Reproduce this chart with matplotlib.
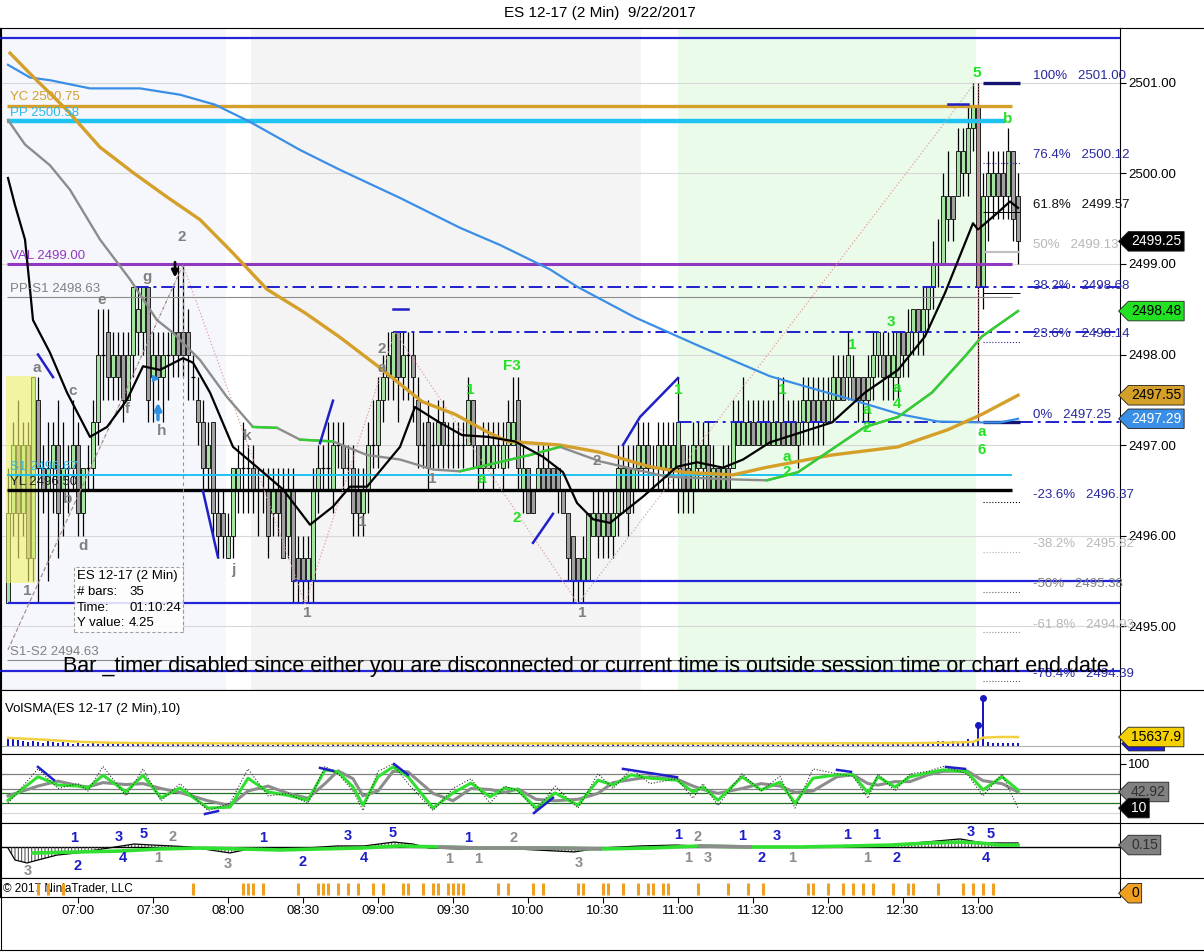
import matplotlib
matplotlib.use("Agg")
import matplotlib.pyplot as plt
import matplotlib.transforms as mtrans
from matplotlib.patches import Rectangle
from matplotlib.path import Path
from matplotlib.lines import Line2D

plt.rcParams['font.family'] = ['Liberation Sans', 'DejaVu Sans']
plt.rcParams['axes.linewidth'] = 0.8
plt.rcParams['hatch.linewidth'] = 0.7

# ---------------- data ----------------
first_bar = "06:32"
bar_minutes = 2
time_labels = ["07:00", "07:30", "08:00", "08:30", "09:00", "09:30", "10:00",
               "10:30", "11:00", "11:30", "12:00", "12:30", "13:00"]
price_ticks = [2495.0, 2496.0, 2497.0, 2498.0, 2499.0, 2500.0, 2501.0]

opens = [2495.25, 2496.25, 2497.0, 2496.25, 2497.0, 2495.75, 2497.5, 2496.75, 2496.5, 2496.75,
         2497.0, 2496.5, 2496.75, 2496.75, 2497.0, 2496.25, 2496.75, 2496.75, 2497.25, 2498.0,
         2498.25, 2497.75, 2498.0, 2498.0, 2497.5, 2498.0, 2498.25, 2498.25, 2498.75, 2497.75,
         2498.0, 2497.75, 2498.0, 2498.0, 2498.25, 2498.25, 2498.25, 2497.75, 2497.5, 2497.25,
         2496.75, 2497.25, 2496.25, 2496.25, 2495.75, 2496.0, 2496.5, 2496.75, 2496.75, 2496.75,
         2496.5, 2496.5, 2496.5, 2496.25, 2496.5, 2496.5, 2496.0, 2496.5, 2495.75, 2495.75,
         2495.5, 2495.5, 2496.5, 2496.75, 2496.75, 2496.5, 2497.0, 2497.0, 2496.75, 2496.75,
         2496.5, 2496.25, 2496.5, 2497.0, 2497.0, 2497.5, 2497.75, 2497.75, 2498.25, 2497.75,
         2498.0, 2498.0, 2497.5, 2497.0, 2497.25, 2497.0, 2497.0, 2497.25, 2497.0, 2497.0,
         2497.0, 2497.0, 2497.0, 2497.5, 2497.0, 2496.75, 2496.75, 2496.75, 2497.0, 2496.75,
         2497.0, 2497.0, 2497.5, 2496.5, 2496.75, 2496.5, 2496.5, 2496.75, 2496.75, 2496.75,
         2496.75, 2496.5, 2496.25, 2496.0, 2495.75, 2495.5, 2495.5, 2496.0, 2496.25, 2496.0,
         2496.25, 2496.0, 2496.25, 2496.5, 2496.75, 2496.5, 2496.75, 2496.75, 2497.0, 2496.75,
         2496.75, 2496.75, 2496.75, 2496.75, 2496.75, 2497.0, 2496.75, 2496.5, 2496.75, 2496.75,
         2497.0, 2496.5, 2496.75, 2496.5, 2496.75, 2496.75, 2497.0, 2497.0, 2497.0, 2497.25,
         2497.0, 2497.0, 2497.25, 2497.0, 2497.0, 2497.25, 2497.0, 2497.25, 2497.0, 2497.25,
         2497.25, 2497.5, 2497.25, 2497.5, 2497.25, 2497.5, 2497.5, 2497.75, 2497.75, 2497.75,
         2497.75, 2497.75, 2497.5, 2497.75, 2498.0, 2498.0, 2497.75, 2497.75, 2497.75, 2498.25,
         2498.0, 2498.25, 2498.5, 2498.25, 2498.5, 2498.75, 2499.0, 2499.0, 2499.5, 2499.75,
         2499.75, 2500.0, 2500.0, 2500.5, 2500.75, 2498.75, 2499.75, 2499.75, 2500.0, 2500.0,
         2499.75, 2500.25, 2499.75]
closes = [2496.25, 2497.0, 2496.25, 2497.0, 2495.75, 2497.75, 2496.75, 2496.5, 2496.75, 2497.0,
          2496.25, 2496.75, 2496.75, 2497.0, 2496.25, 2496.75, 2496.75, 2497.25, 2498.0, 2498.0,
          2497.75, 2498.0, 2497.75, 2497.5, 2498.0, 2498.75, 2498.5, 2498.75, 2497.5, 2498.0,
          2497.75, 2498.0, 2498.0, 2498.25, 2498.0, 2498.0, 2498.0, 2497.75, 2497.25, 2496.75,
          2497.0, 2496.25, 2496.0, 2496.0, 2496.0, 2496.75, 2496.75, 2496.75, 2496.75, 2496.5,
          2496.5, 2496.5, 2496.0, 2496.5, 2496.25, 2495.75, 2496.5, 2495.5, 2495.5, 2495.5,
          2495.75, 2496.5, 2496.75, 2496.75, 2496.75, 2497.0, 2497.0, 2496.75, 2496.75, 2496.25,
          2496.25, 2496.5, 2497.0, 2497.0, 2497.5, 2497.75, 2498.0, 2498.25, 2497.75, 2498.0,
          2498.0, 2497.75, 2497.0, 2497.0, 2496.75, 2497.0, 2497.25, 2497.0, 2497.0, 2497.0,
          2497.0, 2497.0, 2497.5, 2497.0, 2496.75, 2497.0, 2497.0, 2497.0, 2497.0, 2497.0,
          2497.25, 2497.25, 2496.75, 2496.75, 2496.25, 2496.25, 2496.75, 2496.5, 2496.5, 2496.5,
          2496.5, 2496.25, 2495.75, 2495.5, 2495.5, 2495.75, 2496.25, 2496.25, 2496.0, 2496.25,
          2496.0, 2496.25, 2496.75, 2496.75, 2496.25, 2496.75, 2497.0, 2497.0, 2496.75, 2496.75,
          2497.0, 2497.0, 2497.0, 2497.0, 2497.25, 2496.5, 2496.5, 2497.0, 2497.0, 2497.0,
          2496.5, 2496.75, 2496.5, 2496.75, 2496.5, 2497.25, 2497.25, 2497.25, 2497.25, 2497.0,
          2497.25, 2497.25, 2497.0, 2497.25, 2497.25, 2497.0, 2497.25, 2497.0, 2497.25, 2497.5,
          2497.5, 2497.25, 2497.5, 2497.25, 2497.5, 2497.75, 2497.75, 2497.5, 2498.0, 2497.5,
          2497.5, 2497.5, 2497.75, 2498.0, 2498.25, 2497.75, 2498.0, 2498.0, 2498.25, 2498.0,
          2498.25, 2498.5, 2498.25, 2498.5, 2498.75, 2499.0, 2499.0, 2499.75, 2499.75, 2499.5,
          2500.25, 2500.25, 2500.5, 2500.75, 2498.75, 2499.75, 2500.0, 2500.0, 2499.75, 2499.75,
          2500.25, 2499.5, 2499.25]
highs = [2496.75, 2497.25, 2497.5, 2497.25, 2497.25, 2497.75, 2497.75, 2497.0, 2497.25, 2497.25,
         2497.5, 2497.25, 2497.0, 2497.5, 2497.25, 2496.75, 2497.0, 2497.5, 2498.5, 2498.5,
         2498.5, 2498.25, 2498.25, 2498.25, 2498.25, 2498.75, 2498.75, 2498.75, 2498.75, 2498.25,
         2498.25, 2498.25, 2498.25, 2498.75, 2499.0, 2499.0, 2498.5, 2498.0, 2497.75, 2497.5,
         2497.25, 2497.25, 2496.5, 2496.5, 2496.25, 2496.75, 2497.0, 2497.25, 2497.0, 2497.0,
         2496.75, 2496.75, 2496.75, 2496.75, 2496.75, 2496.75, 2496.75, 2496.75, 2496.0, 2496.0,
         2496.0, 2496.75, 2497.0, 2497.0, 2497.25, 2497.25, 2497.25, 2497.25, 2497.0, 2497.0,
         2496.75, 2496.75, 2497.25, 2497.5, 2497.75, 2498.0, 2498.25, 2498.25, 2498.25, 2498.25,
         2498.25, 2498.25, 2497.75, 2497.25, 2497.5, 2497.25, 2497.5, 2497.5, 2497.25, 2497.25,
         2497.25, 2497.25, 2497.75, 2497.5, 2497.0, 2497.25, 2497.25, 2497.25, 2497.25, 2497.25,
         2497.5, 2497.75, 2497.75, 2497.0, 2496.75, 2496.5, 2497.0, 2497.0, 2497.0, 2496.75,
         2496.75, 2496.5, 2496.25, 2496.0, 2495.75, 2496.0, 2496.25, 2496.5, 2496.5, 2496.5,
         2496.5, 2496.5, 2497.0, 2497.0, 2497.0, 2497.0, 2497.25, 2497.25, 2497.25, 2497.0,
         2497.25, 2497.25, 2497.25, 2497.25, 2497.75, 2497.0, 2497.0, 2497.25, 2497.25, 2497.25,
         2497.25, 2497.0, 2496.75, 2497.0, 2497.0, 2497.5, 2497.5, 2497.75, 2497.5, 2497.5,
         2497.5, 2497.5, 2497.5, 2497.5, 2497.75, 2497.75, 2497.5, 2497.5, 2497.5, 2497.75,
         2497.75, 2497.75, 2497.75, 2497.75, 2497.75, 2498.0, 2498.0, 2498.0, 2498.25, 2498.0,
         2497.75, 2497.75, 2498.0, 2498.25, 2498.25, 2498.25, 2498.25, 2498.25, 2498.25, 2498.25,
         2498.5, 2498.5, 2498.5, 2498.75, 2498.75, 2499.25, 2499.5, 2500.0, 2500.25, 2499.75,
         2500.5, 2500.5, 2500.75, 2501.0, 2501.0, 2500.0, 2500.25, 2500.25, 2500.25, 2500.25,
         2500.5, 2500.25, 2500.0]
lows = [2495.25, 2496.0, 2495.75, 2496.0, 2495.5, 2495.5, 2495.25, 2496.25, 2495.5, 2496.25,
        2495.75, 2496.0, 2496.25, 2496.5, 2496.0, 2496.0, 2496.5, 2496.5, 2497.0, 2497.5,
        2497.5, 2497.5, 2497.5, 2497.25, 2497.5, 2497.75, 2498.0, 2498.0, 2497.25, 2497.25,
        2497.5, 2497.25, 2497.5, 2497.75, 2497.75, 2497.75, 2497.5, 2497.5, 2497.0, 2496.5,
        2496.5, 2496.0, 2495.75, 2495.75, 2495.75, 2495.75, 2496.25, 2496.25, 2496.25, 2496.25,
        2496.0, 2496.25, 2495.75, 2496.0, 2496.0, 2495.75, 2495.75, 2495.25, 2495.25, 2495.25,
        2495.25, 2495.25, 2496.25, 2496.5, 2496.5, 2496.25, 2496.75, 2496.5, 2496.5, 2496.0,
        2496.0, 2496.0, 2496.25, 2496.75, 2496.75, 2497.25, 2497.5, 2497.5, 2497.25, 2497.5,
        2497.5, 2497.25, 2496.75, 2496.75, 2496.5, 2496.75, 2496.75, 2496.75, 2496.75, 2496.75,
        2496.75, 2496.75, 2497.0, 2496.75, 2496.5, 2496.5, 2496.75, 2496.5, 2496.75, 2496.5,
        2496.75, 2497.0, 2496.5, 2496.25, 2496.25, 2496.25, 2496.5, 2496.5, 2496.5, 2496.5,
        2496.25, 2496.25, 2495.5, 2495.25, 2495.25, 2495.25, 2495.5, 2496.0, 2495.75, 2495.75,
        2495.75, 2495.75, 2496.0, 2496.25, 2496.0, 2496.25, 2496.5, 2496.5, 2496.5, 2496.5,
        2496.5, 2496.5, 2496.5, 2496.5, 2496.25, 2496.25, 2496.25, 2496.25, 2496.5, 2496.5,
        2496.5, 2496.5, 2496.5, 2496.5, 2496.5, 2496.75, 2497.0, 2497.0, 2497.0, 2497.0,
        2497.0, 2497.0, 2497.0, 2497.0, 2497.0, 2497.0, 2497.0, 2497.0, 2496.75, 2497.0,
        2497.0, 2497.0, 2497.0, 2497.0, 2497.25, 2497.25, 2497.5, 2497.5, 2497.5, 2497.5,
        2497.25, 2497.25, 2497.25, 2497.5, 2497.75, 2497.5, 2497.5, 2497.5, 2497.5, 2497.75,
        2497.75, 2498.0, 2498.0, 2498.0, 2498.25, 2498.5, 2498.75, 2499.0, 2499.25, 2499.25,
        2499.75, 2499.75, 2499.75, 2500.25, 2497.25, 2498.5, 2499.25, 2499.5, 2499.5, 2499.5,
        2499.5, 2499.25, 2499.0]

# moving averages (bar number, price)
ma_blue_i = [0, 4.4, 8.4, 16.4, 26.4, 34.4, 41.4, 48.4, 58.4, 66.4, 78.4, 90.4, 98.4, 108.4,
             113.8, 125.4, 138.4, 152.4, 168.8, 178.4, 186, 194.4, 198.4, 202]
ma_blue_v = [2501.20, 2501.06, 2501.03, 2500.94, 2500.94, 2500.87, 2500.76, 2500.57, 2500.26,
             2500.04, 2499.73, 2499.40, 2499.21, 2498.94, 2498.75, 2498.41, 2498.09, 2497.76,
             2497.50, 2497.34, 2497.26, 2497.25, 2497.25, 2497.29]
ma_gold_i = [0.4, 5, 11.8, 18.4, 25, 31.8, 38.4, 45, 51.8, 59.4, 66.4, 74, 82.8, 89.4, 96, 100,
             110.4, 118.4, 128.4, 135, 145, 151.4, 164.8, 178, 188, 194.8, 202]
ma_gold_v = [2501.33, 2501.07, 2500.70, 2500.29, 2500.01, 2499.74, 2499.49, 2499.12, 2498.72,
             2498.46, 2498.19, 2497.87, 2497.48, 2497.34, 2497.14, 2497.04, 2497.00, 2496.92,
             2496.76, 2496.70, 2496.67, 2496.75, 2496.89, 2496.98, 2497.17, 2497.34, 2497.55]
ma_gray_i = [0, 3.4, 8.4, 12.4, 18.4, 24.4, 29.8, 33, 38.4, 43.8, 49, 53.8, 58.4, 65, 71.8,
             78.4, 85, 90.4, 104.4, 110.4, 118.4, 131.8, 145, 151.8, 158, 171.4, 178, 184.8,
             191.4, 194.8, 202]
ma_gray_v = [2500.59, 2500.32, 2500.09, 2499.82, 2499.27, 2498.83, 2498.38, 2498.24, 2497.94,
             2497.53, 2497.20, 2497.19, 2497.06, 2497.04, 2496.89, 2496.84, 2496.73, 2496.71,
             2496.89, 2496.98, 2496.82, 2496.65, 2496.62, 2496.61, 2496.70, 2497.20, 2497.31,
             2497.58, 2497.98, 2498.20, 2498.48]
ma_gray_rising = [(49, 53.8), (58.4, 65), (90.4, 110.4), (151.8, 202)]
ma_black_i = [0, 1.4, 3.4, 4.4, 5, 8.4, 11.8, 16.4, 19.8, 23.8, 27, 30.4, 35, 37, 40.4, 45,
              51, 55, 60.4, 65, 68.4, 71.8, 78.4, 81.4, 86, 90.8, 96, 101.4, 107, 111, 113.8,
              117, 120.4, 127, 133.8, 137.8, 143, 147, 152.4, 164.8, 171.4, 178, 183.4, 187.4,
              191.4, 193, 194, 198, 200.4, 202]
ma_black_v = [2499.95, 2499.65, 2499.27, 2498.72, 2498.38, 2498.02, 2497.58, 2497.09, 2497.20,
              2497.50, 2497.87, 2497.83, 2497.96, 2497.91, 2497.58, 2496.98, 2496.70, 2496.51,
              2496.12, 2496.32, 2496.54, 2496.54, 2496.98, 2497.42, 2497.26, 2497.11, 2497.09,
              2497.04, 2496.87, 2496.70, 2496.36, 2496.18, 2496.14, 2496.43, 2496.76, 2496.81,
              2496.75, 2496.84, 2497.03, 2497.25, 2497.58, 2497.83, 2498.20, 2498.68, 2499.23,
              2499.45, 2499.38, 2499.57, 2499.69, 2499.62]

# price levels
r_level = 2501.50
yc_level, pp_level, val_level = 2500.75, 2500.58, 2499.00
pps1_level, s1_level, yl_level, s1s2_level = 2498.63, 2496.67, 2496.50, 2494.63
blue_levels = [2495.50, 2495.25, 2494.50]
blue_level_start = [57, 0, -2]
swing_levels = [2498.75, 2498.25, 2497.25]
swing_start = [25.4, 77, 134]

fib_pct = ["100%", "76.4%", "61.8%", "50%", "38.2%", "23.6%", "0%",
           "-23.6%", "-38.2%", "-50%", "-61.8%", "-76.4%"]
fib_price = [2501.00, 2500.12, 2499.57, 2499.13, 2498.68, 2498.14, 2497.25,
             2496.37, 2495.82, 2495.38, 2494.93, 2494.39]

zigzag_i = [0, 35, 59.4, 77.4, 114, 193.4]
zigzag_p = [2494.74, 2498.99, 2495.25, 2498.25, 2495.25, 2501.00]

session_start = ["06:28", "08:09", "11:00"]
session_end = ["07:59", "10:45", "12:59"]

gray_labels = ["a", "c", "b", "d", "e", "f", "g", "h", "j", "k", "1", "2", "1", "1", "2", "a",
               "1", "2", "1"]
gray_label_i = [5.8, 13, 12, 15, 18.8, 23.8, 27.8, 30.8, 45, 47.8, 3.8, 34.8, 59.8, 70.8,
                74.8, 74.8, 84.8, 117.8, 114.8]
gray_label_p = [2497.85, 2497.60, 2496.40, 2495.89, 2498.60, 2497.40, 2498.86, 2497.15,
                2495.62, 2497.10, 2495.39, 2499.30, 2495.14, 2496.15, 2498.06, 2497.85,
                2496.63, 2496.82, 2495.14]
green_labels = ["1", "F3", "a", "2", "1", "1", "a", "2", "1", "a", "2", "3", "a", "4", "5",
                "b", "a", "6"]
green_label_i = [92.4, 100.8, 94.8, 101.8, 134, 154.8, 155.8, 155.8, 168.8, 171.8, 171.8,
                 176.6, 177.8, 177.8, 193.8, 200, 194.8, 194.8]
green_label_p = [2497.61, 2497.87, 2496.63, 2496.19, 2497.61, 2497.61, 2496.87, 2496.70,
                 2498.11, 2497.39, 2497.19, 2498.36, 2497.63, 2497.45, 2501.11, 2500.60,
                 2497.14, 2496.94]

# divergence slashes on price (start bar, start price, end bar, end price)
slash_price = [(6, 2498.0, 9, 2497.75), (39, 2496.49, 42, 2495.76), (62.4, 2497.02, 65, 2497.49),
               (105, 2495.92, 109, 2496.24), (77, 2498.5, 80, 2498.5), (188, 2500.77, 192, 2500.77)]
slash_curve_i = [123, 126.4, 134]
slash_curve_p = [2497.0, 2497.31, 2497.74]

# volume (thousands of contracts)
volume_k = [15.6, 12.2, 10.4, 8.7, 7.0, 8.7, 7.0, 5.2, 10.4, 7.0,
            5.2, 7.0, 5.2, 3.5, 5.2, 3.5, 3.5, 5.2, 3.5, 3.5,
            5.2, 3.5, 3.5, 3.5, 5.2, 3.5, 3.5, 5.2, 3.5, 3.5,
            3.5, 3.5, 3.5, 3.5, 3.5, 3.5, 5.2, 3.5, 3.5, 3.5,
            3.5, 3.5, 1.7, 3.5, 3.5, 3.5, 3.5, 3.5, 1.7, 3.5,
            3.5, 3.5, 3.5, 1.7, 3.5, 3.5, 3.5, 5.2, 3.5, 3.5,
            3.5, 3.5, 3.5, 1.7, 3.5, 3.5, 3.5, 3.5, 3.5, 3.5,
            3.5, 3.5, 3.5, 5.2, 3.5, 3.5, 1.7, 3.5, 3.5, 3.5,
            3.5, 3.5, 3.5, 3.5, 1.7, 3.5, 3.5, 3.5, 3.5, 3.5,
            3.5, 3.5, 3.5, 3.5, 5.2, 3.5, 5.2, 3.5, 3.5, 3.5,
            3.5, 5.2, 3.5, 3.5, 3.5, 1.7, 3.5, 3.5, 3.5, 5.2,
            3.5, 3.5, 5.2, 3.5, 3.5, 3.5, 3.5, 1.7, 3.5, 3.5,
            3.5, 3.5, 3.5, 3.5, 3.5, 3.5, 1.7, 3.5, 3.5, 3.5,
            5.2, 3.5, 3.5, 3.5, 3.5, 3.5, 3.5, 3.5, 1.7, 3.5,
            3.5, 3.5, 3.5, 3.5, 5.2, 3.5, 3.5, 5.2, 3.5, 3.5,
            3.5, 3.5, 3.5, 3.5, 1.7, 3.5, 5.2, 3.5, 3.5, 3.5,
            3.5, 3.5, 3.5, 3.5, 3.5, 3.5, 1.7, 3.5, 3.5, 3.5,
            3.5, 3.5, 3.5, 3.5, 3.5, 3.5, 3.5, 3.5, 3.5, 3.5,
            3.5, 3.5, 3.5, 3.5, 3.5, 5.2, 8.7, 8.7, 7.0, 8.7,
            7.0, 5.2, 12.2, 7.0, 36.0, 83.4, 7.0, 5.2, 5.2, 5.2,
            5.2, 5.2, 5.2]
vol_sma_i = [0, 5, 10, 15, 22, 30, 50, 100, 150, 180, 188, 193, 195, 198, 202]
vol_sma_k = [14.0, 12.0, 9.5, 7.0, 5.5, 4.8, 4.3, 4.3, 4.3, 4.8, 5.8, 7.0, 14.5, 15.6, 15.6]
vol_last_k = 15.6379
vol_peaks = [194, 195]

# stochastics
stoch_i = [0, 6, 10, 14, 16, 19, 23.6, 27, 30.6, 34.4, 40, 44.4, 48, 52, 56, 60, 63.4, 66, 69,
           71, 74, 77, 80, 85, 89, 92.6, 96.4, 99.4, 102, 105.6, 109.4, 114, 118, 121, 124.6,
           128.4, 133.8, 137, 139, 142, 146.8, 150.6, 154.4, 157.4, 161, 165.8, 169, 172, 174,
           177.4, 180.4, 184, 187, 191.8, 195, 198.8, 202]
stoch_k = [26, 74, 57, 55, 51, 77, 43, 77, 31, 51, 10, 12, 71, 43, 36, 26, 88, 84, 53, 16, 74,
           94, 74, 10, 41, 61, 33, 51, 47, 10, 41, 16, 67, 57, 78, 71, 67, 43, 53, 26, 74, 47,
           63, 20, 71, 78, 78, 41, 74, 53, 74, 82, 88, 84, 47, 74, 47]
stoch_d = [35, 55, 65, 56, 53, 62, 58, 60, 50, 42, 25, 15, 45, 55, 40, 30, 60, 86, 70, 35, 45,
           85, 84, 40, 25, 50, 48, 42, 49, 28, 25, 28, 40, 62, 68, 74, 69, 55, 48, 40, 50, 60,
           55, 42, 45, 74, 78, 60, 57, 64, 64, 78, 85, 86, 66, 60, 42.92]
stoch_f = [20, 90, 50, 60, 45, 95, 35, 90, 25, 60, 5, 20, 90, 35, 40, 20, 95, 80, 45, 5, 85,
           100, 60, 5, 50, 70, 20, 55, 45, 5, 55, 10, 80, 50, 90, 60, 70, 30, 60, 15, 80, 45,
           75, 10, 90, 80, 75, 30, 80, 45, 80, 85, 95, 80, 35, 80, 10]
stoch_levels = [80, 50, 40, 20, 0]
stoch_slash = [(6, 94, 9.2, 67), (39.4, -2, 42, 4), (62.4, 92, 65, 86), (77.2, 100, 80, 78),
               (105.2, 0, 109, 31), (123, 90, 133.8, 73), (165.8, 88, 168.6, 84),
               (187.6, 94, 191.4, 90)]

# macd-style oscillator
macd_sig_i = [5, 14.4, 22.4, 30.4, 38.4, 46.4, 54.4, 62.4, 70.4, 78.4, 86.4, 94.4, 108.4,
              118.4, 128.4, 138.4, 148.4, 158.4, 168.8, 176.4, 184.4, 190.4, 194.4, 198.4, 202]
macd_sig = [-0.46, -0.38, -0.31, -0.15, -0.08, -0.15, -0.23, -0.15, -0.08, 0.08, 0, -0.08,
            -0.08, -0.15, -0.08, 0.08, 0, 0, 0.08, 0.15, 0.31, 0.38, 0.31, 0.15, 0.15]
macd_flat = [(86.4, 118.4), (138.4, 148.4)]
macd_i = [0, 1.4, 3.8, 6, 9.8, 13.8, 17.6, 21.4, 25.2, 29, 32.8, 36.6, 40.4, 44.4, 48.2, 52,
          59.6, 65.8, 71.2, 77.2, 81, 84.2, 90.2, 98, 105.6, 113.2, 118.4, 126.4, 133.8,
          141.4, 158.4, 174.4, 183.4, 190.4, 195, 202]
macd_v = [-0.08, -1.0, -1.23, -1.0, -0.62, -0.46, -0.23, 0, 0.23, 0.15, 0.08, 0, -0.23, -0.46,
          -0.15, -0.08, -0.08, 0.08, 0.08, 0.38, 0.23, -0.08, -0.15, -0.08, -0.23, -0.38,
          -0.08, 0.08, 0.15, 0, 0, 0.08, 0.38, 0.62, 0.31, 0.31]
macd_blue_txt = ["1", "2", "3", "4", "5", "1", "2", "3", "4", "5", "1", "1", "1", "2", "3",
                 "1", "1", "2", "3", "5", "4"]
macd_blue_i = [13.2, 14, 22.2, 23, 27.2, 51, 59, 68, 71.2, 77, 92, 134, 146.8, 150.8, 153.8,
               167.8, 173.6, 177.8, 192.6, 196.6, 195.6]
macd_blue_v = [0.69, -1.46, 0.77, -0.85, 1.0, 0.69, -1.15, 0.85, -0.85, 1.08, 0.69, 0.92,
               0.85, -0.85, 0.85, 0.92, 0.92, -0.85, 1.15, 1.0, -0.85]
macd_gray_txt = ["3", "2", "1", "3", "1", "1", "2", "3", "2", "1", "3", "1", "1"]
macd_gray_i = [4, 33, 30, 44, 88.2, 94, 101.2, 114.2, 138, 136, 140, 156.8, 171.8]
macd_gray_v = [-1.85, 0.77, -0.85, -1.31, -0.92, -0.92, 0.69, -1.23, 0.77, -0.85, -0.85,
               -0.85, -0.85]

# orange signal ticks (bar numbers)
signal_bars = [6, 8, 11, 37, 47, 48, 49, 51, 58, 62, 63, 64, 66, 68, 70, 73, 75, 79, 80, 83,
               85, 86, 88, 89, 90, 91, 98, 100, 105, 107, 114, 115, 119, 120, 123, 126, 128,
               129, 131, 132, 138, 144, 148, 151, 160, 161, 164, 167, 169, 171, 173, 177,
               180, 181, 186, 191, 193, 195, 197]

# ---------------- drawing ----------------
W, H = 1204, 952
fig = plt.figure(figsize=(W / 100, H / 100), dpi=100)


def px_rect(x0, y0, x1, y1):
    return [x0 / W, 1 - y1 / H, (x1 - x0) / W, (y1 - y0) / H]


def bar_pos(hhmm):
    h, m = map(int, hhmm.split(":"))
    h0, m0 = map(int, first_bar.split(":"))
    return ((h * 60 + m) - (h0 * 60 + m0)) / bar_minutes


def tag_shape(x0, y0, width, height, mutation_size):
    pad = mutation_size * 0.2
    x0, y0 = x0 - pad, y0 - pad
    x1, y1 = x0 + width + 2 * pad, y0 + height + 2 * pad
    ym = (y0 + y1) / 2
    tip = (y1 - y0) * 0.5
    return Path([(x0 - tip, ym), (x0, y1), (x1, y1), (x1, y0), (x0, y0), (x0 - tip, ym)],
                [Path.MOVETO, Path.LINETO, Path.LINETO, Path.LINETO, Path.LINETO, Path.CLOSEPOLY])


def price_tag(axis, value, text, fc, tc, dx=8, z=10, size=10):
    tr = mtrans.blended_transform_factory(axis.transAxes, axis.transData)
    axis.annotate(text, xy=(1, value), xycoords=tr, xytext=(dx, 0), textcoords='offset points',
                  ha='left', va='center', fontsize=size, color=tc, annotation_clip=False,
                  zorder=z, bbox=dict(boxstyle=tag_shape, fc=fc, ec='#202020', lw=0.6))


xmin, xmax = -1.6, 222.4
ax = fig.add_axes(px_rect(0, 28, 1120, 690))
ax_vol = fig.add_axes(px_rect(0, 690, 1120, 754))
ax_sto = fig.add_axes(px_rect(0, 754, 1120, 823))
ax_macd = fig.add_axes(px_rect(0, 823, 1120, 878))
ax_sig = fig.add_axes(px_rect(0, 878, 1120, 897))

for a in (ax, ax_vol, ax_sto, ax_macd, ax_sig):
    a.set_xlim(xmin, xmax)
    a.tick_params(axis='x', bottom=False, labelbottom=False)
    a.yaxis.tick_right()
    a.tick_params(axis='y', left=False, labelleft=False, right=False, labelright=False)
    for s in a.spines.values():
        s.set_color('black')

# ---- main price panel ----
ax.set_ylim(2494.294, 2501.607)
ax.set_yticks(price_ticks)
ax.set_yticklabels([f"{p:.2f}" for p in price_ticks])
ax.tick_params(axis='y', right=True, labelright=True, direction='out', length=4, pad=2,
               labelsize=9.5, width=0.8)
for p in price_ticks:
    ax.axhline(p, color='#d8d8d8', lw=0.8, zorder=0.5)

band_colors = ['#f5f7fc', '#f4f4f4', '#eafbea']
for s, e, col in zip(session_start, session_end, band_colors):
    ax.axvspan(bar_pos(s), bar_pos(e), color=col, lw=0, zorder=0)

# levels
right_end = 200.8
ax.hlines(r_level, xmin, xmax, color='#2424d8', lw=1.6, zorder=3)
ax.hlines(yc_level, -0.2, right_end, color='#d4a02a', lw=2.4, zorder=3)
ax.hlines(pp_level, -0.2, 199.4, color='#1ec3f2', lw=3.2, zorder=3)
ax.hlines(val_level, -0.2, right_end, color='#9038c0', lw=2.2, zorder=3)
ax.hlines(pps1_level, -0.2, right_end, color='#8c8c8c', lw=0.8, zorder=3)
ax.hlines(s1_level, -0.2, right_end, color='#1ec3f2', lw=1.4, zorder=3)
ax.hlines(yl_level, -0.2, right_end, color='black', lw=2.4, zorder=3)
ax.hlines(s1s2_level, -0.2, right_end, color='#8c8c8c', lw=0.8, zorder=3)
for lv, st in zip(blue_levels, blue_level_start):
    ax.hlines(lv, st, xmax, color='#2424d8', lw=1.6, zorder=3)
for lv, st in zip(swing_levels, swing_start):
    ax.hlines(lv, st, xmax, color='#2020d0', lw=1.4, linestyles=(0, (7, 2.5, 1.5, 2.5)),
              zorder=3)

level_text = [("YC 2500.75", yc_level, '#d4a02a'), ("PP 2500.58", pp_level, '#30b8e8'),
              ("VAL 2499.00", val_level, '#9038c0'), ("PP-S1 2498.63", pps1_level, '#808080'),
              ("S1 2496.67", s1_level, '#30b8e8'), ("YL 2496.50", yl_level, '#202020'),
              ("S1-S2 2494.63", s1s2_level, '#808080')]
for txt, lv, col in level_text:
    ax.annotate(txt, xy=(0.4, lv), xytext=(0, 1.5), textcoords='offset points', ha='left',
                va='bottom', fontsize=9.5, color=col, zorder=6)

# fib block on right
fib_colors = ['#2828a0', '#2828a0', '#101010', '#b8b8b8', '#2828a0', '#2828a0', '#2828a0',
              '#2828a0', '#b8b8b8', '#808080', '#b8b8b8', '#2828a0']
fib_styles = [('#141470', 2.4, '-'), ('#2828a0', 0.8, ':'), ('black', 0.7, '-'),
              ('#c0c0c0', 1.6, '-'), ('black', 0.7, '-'), ('#2828a0', 0.8, ':'),
              ('#141470', 2.4, '-'), ('black', 0.8, ':'), ('#b0b0b0', 0.8, ':'),
              ('#606060', 0.8, ':'), ('#909090', 0.8, ':'), ('#606060', 0.8, ':')]
for pct, fp, col, (lc, lw, ls) in zip(fib_pct, fib_price, fib_colors, fib_styles):
    ax.hlines(fp, 195.0, 202.4, color=lc, lw=lw, linestyles=ls, zorder=4)
    t = ax.annotate(f"{pct}   {fp:.2f}", xy=(205, fp), xytext=(0, 1), textcoords='offset points',
                    ha='left', va='bottom', fontsize=9.5, color=col, zorder=5)
    t.set_clip_on(True)

# zigzag and tooltip lines
ax.plot(zigzag_i, zigzag_p, color='#e0a0a0', lw=0.9, ls=':', zorder=3)
ax.plot(zigzag_i[:2], zigzag_p[:2], color='#909090', lw=0.8, ls=(0, (3, 3)), zorder=3)
ax.vlines(zigzag_i[1], 2494.94, zigzag_p[1], color='#909090', lw=0.8, linestyles=(0, (3, 3)),
          zorder=3)
ax.vlines(194, 2497.25, 2501.0, color='#e07070', lw=0.8, linestyles=':', zorder=4.5)

# candles
for i, (o, c, h, l) in enumerate(zip(opens, closes, highs, lows)):
    ax.vlines(i, l, h, color='black', lw=0.9, zorder=2)
    if c == o:
        ax.hlines(c, i - 0.45, i + 0.45, color='black', lw=0.9, zorder=2.1)
    else:
        col = '#a4e4a0' if c > o else '#a0a0a0'
        ax.add_patch(Rectangle((i - 0.42, min(o, c)), 0.84, abs(c - o), fc=col, ec='#202020',
                               lw=0.7, zorder=2.1))

ax.add_patch(Rectangle((-0.5, 2495.48), 6.1, 2.28, fc='#f2f266', ec='none', alpha=0.6,
                       zorder=2.5))

# moving averages
ax.plot(ma_blue_i, ma_blue_v, color='#3a8ee6', lw=1.6, zorder=4)
ax.plot(ma_gold_i, ma_gold_v, color='#d4a02a', lw=2.4, zorder=4)
ax.plot(ma_gray_i, ma_gray_v, color='#8c8c8c', lw=1.7, zorder=4)
for a0, a1 in ma_gray_rising:
    seg = [(x, y) for x, y in zip(ma_gray_i, ma_gray_v) if a0 <= x <= a1]
    ax.plot([s[0] for s in seg], [s[1] for s in seg], color='#30d030', lw=1.7, zorder=4.1)
ax.plot(ma_black_i, ma_black_v, color='black', lw=1.6, zorder=4.2)

for x0, y0, x1, y1 in slash_price:
    ax.plot([x0, x1], [y0, y1], color='#2020c8', lw=1.8, zorder=5)
ax.plot(slash_curve_i, slash_curve_p, color='#2020c8', lw=1.8, zorder=5)

# arrows
ax.annotate("", xy=(33.4, 2498.82), xytext=(33.4, 2499.05),
            arrowprops=dict(arrowstyle='-|>', color='black', lw=2, mutation_scale=10), zorder=6)
ax.annotate("", xy=(30, 2497.50), xytext=(30, 2497.25),
            arrowprops=dict(arrowstyle='-|>', color='#3090e0', lw=2.5, mutation_scale=10),
            zorder=6)
ax.plot([29.4], [2497.74], marker='>', color='#3090e0', ms=5, zorder=6)

for t, xi, p in zip(gray_labels, gray_label_i, gray_label_p):
    ax.text(xi, p, t, color='#808080', fontsize=11, fontweight='bold', ha='center',
            va='center', zorder=6)
for t, xi, p in zip(green_labels, green_label_i, green_label_p):
    ax.text(xi, p, t, color='#22e022', fontsize=11, fontweight='bold', ha='center',
            va='center', zorder=6)

# tooltip
ax.add_patch(Rectangle((13.2, 2494.94), 21.8, 0.71, fc='white', ec='#909090', lw=0.8,
                       ls=(0, (3, 2)), alpha=0.85, zorder=6))
tip_rows = [("ES 12-17 (2 Min)", ""), ("# bars:", "35"), ("Time:", "01:10:24"),
            ("Y value:", "4.25")]
for k, (lab, val) in enumerate(tip_rows):
    yy = 2495.55 - k * 0.173
    ax.text(13.8, yy, lab, fontsize=9.5, va='center', ha='left', zorder=7)
    if val:
        ax.text(24.2, yy, val, fontsize=9.5, va='center', ha='left', zorder=7)

ax.text(115.6, 2494.555, "Bar _timer disabled since either you are disconnected or current "
        "time is outside session time or chart end date", fontsize=15.5, ha='center',
        va='center', color='black', zorder=7)

price_tag(ax, closes[-1], f"{closes[-1]:.2f}", 'black', 'white')
price_tag(ax, ma_gray_v[-1], f"{ma_gray_v[-1]:.2f}", '#22e022', 'black')
price_tag(ax, ma_gold_v[-1], f"{ma_gold_v[-1]:.2f}", '#d4a02a', 'black')
price_tag(ax, ma_blue_v[-1], f"{ma_blue_v[-1]:.2f}", '#3a8ee6', 'white')

# ---- volume panel ----
ax_vol.set_ylim(-13.9, 97.3)
ax_vol.axhline(0, color='#b0b0b0', lw=0.8, zorder=1)
ax_vol.bar(range(len(volume_k)), volume_k, width=0.45, color='#1818c0', zorder=2)
ax_vol.plot(vol_peaks, [volume_k[i] for i in vol_peaks], 'o', color='#1818c0', ms=4, zorder=3)
ax_vol.plot(vol_sma_i, vol_sma_k, color='#f2d040', lw=1.8, zorder=2.5)
ax_vol.text(5 / 1120, 0.70, "VolSMA(ES 12-17 (2 Min),10)", transform=ax_vol.transAxes,
            fontsize=9.5, ha='left', va='center')
price_tag(ax_vol, 4.0, "          ", '#2020d0', '#2020d0', z=9, size=8)
price_tag(ax_vol, vol_last_k, f"{vol_last_k * 1000:.1f}", '#f5d000', 'black', z=10)

# ---- stochastics panel ----
ax_sto.set_ylim(-20.4, 120.4)
for lv, col in zip(stoch_levels, ['#808080', '#808080', '#207020', '#207020', '#d8d8d8']):
    ax_sto.axhline(lv, color=col, lw=0.9, zorder=1)
ax_sto.plot(stoch_i, stoch_d, color='#8c8c8c', lw=2.2, zorder=2)
ax_sto.plot(stoch_i, stoch_k, color='#30e030', lw=2.2, zorder=3)
ax_sto.plot(stoch_i, stoch_f, color='#303030', lw=0.8, ls=':', zorder=4)
for x0, y0, x1, y1 in stoch_slash:
    ax_sto.plot([x0, x1], [y0, y1], color='#2020c8', lw=1.8, zorder=5)
ax_sto.set_yticks([100])
ax_sto.set_yticklabels(["100"])
ax_sto.tick_params(axis='y', right=True, labelright=True, direction='out', length=4, pad=2,
                   labelsize=9.5, width=0.8)
price_tag(ax_sto, stoch_d[-1], f"{stoch_d[-1]:.2f}", '#808080', '#303030')
price_tag(ax_sto, stoch_f[-1], f"{stoch_f[-1]:.0f}", 'black', 'white')

# ---- macd panel ----
ax_macd.set_ylim(-2.385, 1.846)
ax_macd.axhline(0, color='black', lw=1.0, zorder=1)
ax_macd.fill_between(macd_i, 0, macd_v, facecolor='none', edgecolor='#404040', hatch='|||||',
                     lw=0, zorder=1.5)
ax_macd.plot(macd_i, macd_v, color='black', lw=0.9, zorder=2)
ax_macd.plot(macd_sig_i, macd_sig, color='#30e030', lw=2.6, zorder=3)
for a0, a1 in macd_flat:
    seg = [(x, y) for x, y in zip(macd_sig_i, macd_sig) if a0 <= x <= a1]
    ax_macd.plot([s[0] for s in seg], [s[1] for s in seg], color='#8c8c8c', lw=2.6, zorder=3.1)
for t, xi, v in zip(macd_blue_txt, macd_blue_i, macd_blue_v):
    ax_macd.text(xi, v, t, color='#1c1cc8', fontsize=10.5, fontweight='bold', ha='center',
                 va='center', zorder=5)
for t, xi, v in zip(macd_gray_txt, macd_gray_i, macd_gray_v):
    ax_macd.text(xi, v, t, color='#8c8c8c', fontsize=10.5, fontweight='bold', ha='center',
                 va='center', zorder=5)
price_tag(ax_macd, macd_sig[-1], f"{macd_sig[-1]:.2f}", '#808080', '#303030')

# ---- signal ticks panel ----
ax_sig.set_ylim(0, 1)
ax_sig.text(3 / 1120, 0.42, "\u00a9 2017 NinjaTrader, LLC", transform=ax_sig.transAxes,
            fontsize=8.5, ha='left', va='center', zorder=1)
ax_sig.vlines(signal_bars, 0.1, 0.74, color='#f0a020', lw=2.2, zorder=2)
price_tag(ax_sig, 0.2, "0", '#f0a020', 'black')
ax_sig.set_xticks([bar_pos(t) for t in time_labels])
ax_sig.set_xticklabels(time_labels)
ax_sig.tick_params(axis='x', bottom=True, labelbottom=True, direction='out', length=4, pad=2,
                   labelsize=9.5, width=0.8)

# outer frame pieces
for yy in (28, 690, 754, 823, 878):
    fig.add_artist(Line2D([1120 / W, 1], [1 - yy / H] * 2, color='black', lw=0.8))
fig.add_artist(Line2D([0, 1], [1 - 950 / H] * 2, color='black', lw=0.8))
fig.add_artist(Line2D([0.5 / W] * 2, [1 - 950 / H, 1 - 28 / H], color='black', lw=0.8))

fig.text(600 / W, 1 - 13 / H, "ES 12-17 (2 Min)  9/22/2017", ha='center', va='center',
         fontsize=11)

fig.savefig("out.png", dpi=100)
